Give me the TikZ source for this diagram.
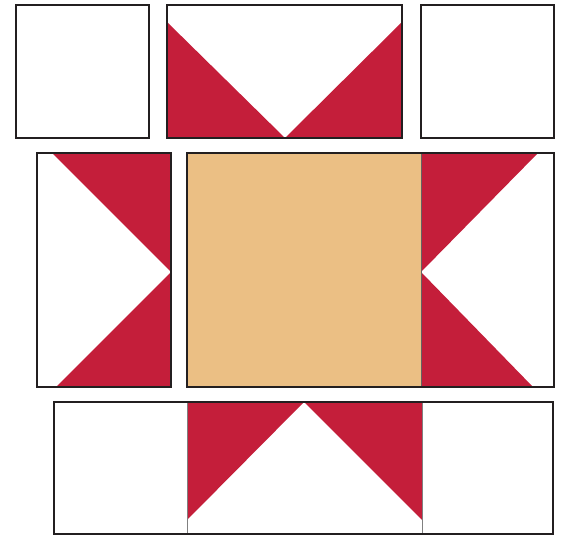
\documentclass[tikz,border=0pt]{standalone}
\usepackage{xcolor}
\usepackage{tikz}
\definecolor{starred}{RGB}{196,30,58}
\definecolor{centertan}{RGB}{235,191,132}
\definecolor{seam}{RGB}{35,31,32}

\begin{document}
\begin{tikzpicture}[x=1pt,y=-1pt,
  patch/.style={draw=seam,line width=2.5pt},
  point/.style={fill=starred},
  seamline/.style={draw=gray,line width=0.6pt}
]
\useasboundingbox (0,0) rectangle (561,537);
% Top row
\draw[patch] (16,5) rectangle (149,138);
\fill[point] (167,22) -- (167,138) -- (285,138) -- cycle;
\fill[point] (402,22) -- (402,138) -- (285,138) -- cycle;
\draw[patch] (167,5) rectangle (402,138);
\draw[patch] (421,5) rectangle (554,138);

% Middle row
\fill[point] (52,153) -- (171,153) -- (171,272) -- cycle;
\fill[point] (171,272) -- (171,387) -- (56,387) -- cycle;
\draw[patch] (37,153) rectangle (171,387);
\fill[centertan] (187,153) rectangle (421,387);
\fill[point] (421,153) -- (538,153) -- (421,272) -- cycle;
\fill[point] (421,272) -- (421,387) -- (533,387) -- cycle;
\draw[seamline,draw=seam!70] (421,153) -- (421,387);
\draw[patch] (187,153) rectangle (554,387);

% Bottom row
\fill[point] (187,402) -- (304,402) -- (187,520) -- cycle;
\fill[point] (304,402) -- (422,402) -- (422,520) -- cycle;
\draw[seamline] (187,402) -- (187,534);
\draw[seamline] (422,402) -- (422,534);
\draw[patch] (54,402) rectangle (553,534);
\end{tikzpicture}
\end{document}
